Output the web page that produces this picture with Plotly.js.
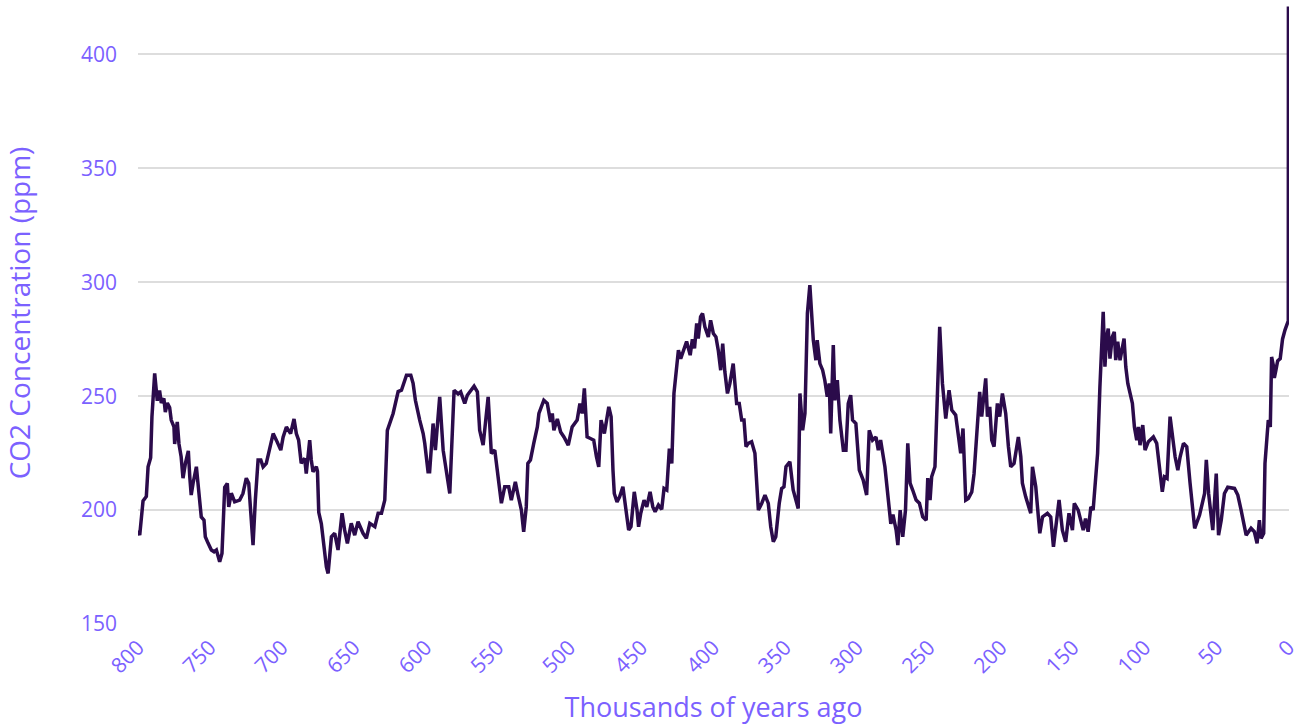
<!DOCTYPE html>
<html>
<head>
<meta charset="utf-8">
<script src="https://cdn.plot.ly/plotly-3.0.1.min.js"></script>
<style>html,body{margin:0;padding:0;background:#fff;}#chart{width:1301px;height:725px;}</style>
</head>
<body>
<div id="chart"></div>
<script>
// Age in thousands of years before present
const age = [
800,798.8,796.5,794.2,793,791.2,790.3,788.4,786.6,785,783.8,782,781,779.6,778,776.9,775,774.5,772.7,771.5,
770,768.7,767,765,764,763,761.7,759.4,758.3,756,754.1,753.2,751.3,749,747.1,745.5,743.2,741.6,739.7,737.9,
736.9,735.1,732.8,729.3,727,724.7,723,721.2,720,718.4,716.5,714.6,713,710.8,708.4,706,703.8,700.7,699.1,696.8,
693.9,691.5,689.9,688.3,686.5,684.1,683,680.6,679.5,678.3,676,675.2,674.3,672.5,669,667.8,665.5,663.2,660.9,658.1,
656.3,654.4,651.7,649.3,647,643.5,641.2,638.8,635.3,633,630.7,628.4,626.6,625,622.6,619.1,616.8,613.3,610.3,608.7,
607.1,604.1,601.7,600.6,598.3,597.2,594.8,593.2,590.2,587.8,585.5,583.2,580.2,577.4,575.6,572.8,571,568.2,566.3,564,
562.4,560,556.5,554.3,551.9,549.6,547.3,545,542.2,540.4,537.6,535.7,533.4,531.8,530,528.9,527.1,524.8,522.3,521.2,
518.9,517.8,515.4,513.1,511.9,510.8,508.4,506.1,503.8,500.8,498.1,494.6,492.7,491.1,489.6,487.7,485.4,483.1,481.2,479.6,
478,475.7,472.6,471,469.7,468.8,466.9,465.1,462.8,461.2,458.8,457.2,454.9,453,451.9,450.4,448.1,446.2,443.9,442,
440.4,438.1,435.8,434.2,432.3,430.5,428.8,427.3,425.9,424.2,422.6,420.8,418.5,416,414.5,413,411.5,410.4,408.8,407.4,
405.8,403.4,401.8,399.9,398.1,396.5,394.8,393.4,391.9,390.1,388.4,386.1,383.7,381.9,380.2,378.6,377.2,375.6,373.3,371,
368.6,366.3,364,361.7,360,358.2,356.5,354.1,352.4,350.8,349.4,346.7,344.4,342.5,340.9,339.7,337.8,336.2,334.5,332.8,
331.5,330.4,328.6,327.7,325.8,323.9,322.4,320.7,319.3,318.3,316.5,315.4,313.7,311.9,309.5,307.7,306.1,304.4,303.1,300.8,
298.4,295.7,293.3,291.5,289.2,286.8,285.2,283.6,280.6,278.3,276.5,275,272.8,271.6,270,268.2,266.3,264.7,263.1,261.3,
258.9,256.6,254.3,251.9,250.8,249.2,248.1,245.8,244.2,242.5,240.6,238.3,236,234.1,231.4,229.5,227.9,226.3,224.4,222.6,
220.2,218.6,216.3,214.7,213.3,211.7,210.5,209.3,207.7,206.3,204.7,202.4,200.8,198.9,196.6,194.7,193.1,190.8,187.8,186.1,
185,182.7,179.2,178,175.7,172.9,171,167.6,165.3,163.4,161.8,159.5,157.2,154.9,152.6,150.2,148.9,146.2,142.7,141.1,
139.3,137.4,135.8,134.6,132.7,131.1,129.9,128.8,127.6,126.4,125.3,124.1,122.5,121.1,120.1,118.7,117.1,115.9,114.3,113.1,
111.7,110.1,108.5,107.1,105.5,104.3,103.2,101.3,99.7,97.4,93.9,91.6,89.3,87.7,86.2,84.4,82.3,80.7,78.8,76.9,
75.3,73,70.7,68.4,65.2,61.8,58.3,57.1,55.5,52.6,51.4,50.2,48.6,46.7,44.5,42.2,37.5,35.2,32.9,29.4,
26,23.7,21.8,20.2,19,17.2,16.3,14.9,14,12.6,11.7,10.3,9.8,8.7,7.5,5.7,4.1,2.4,0.6,0.1,
0
];
// CO2 concentration in ppm
const co2 = [
191,189,204,206,219,223,241,260,248,252.5,247,249,243,247,245,239.5,236.5,229,238.7,229,
223.4,214,220.6,226,214.6,206.6,211.8,219,211.8,197,195.6,188.3,185.5,182.5,181.7,182.5,177.3,181,210,211.7,
201.4,207.4,203.6,204.4,207.3,214,211.8,192.7,184.6,204.4,222,222,219,220.5,226.3,233.6,230.7,226.3,232,236.5,
233.6,240,233.6,230.7,220.5,222.7,216,230.7,222,216.8,219,217,199,194,175,172.2,188.3,189.8,182.5,198.6,
191.2,185.4,194.2,189,194.9,189.8,187.6,194.2,192.7,198.6,198.6,204.4,235,238,242.4,252,252.6,259.2,259.2,255.6,
248.2,239.5,233.6,229.3,216.8,216.8,238,226.3,249.7,226.3,216,207.3,252.6,251,251.9,246.8,250.4,252.6,254.4,251.9,
235,228.5,249.7,224.9,226.3,214.6,203,210.2,210.2,204.4,212.4,206.5,200,190.5,201.4,220.5,222,229.3,236.5,242.4,
246.8,248.2,246.8,238.7,242.4,235,240,234.3,232.1,228.5,236.5,239.5,246.8,242.4,253.4,232.1,231.4,230.7,223.4,219,
239.5,233.6,245.3,241,217.5,207.3,203.6,205.8,210.2,203,191.2,192.7,208,200,192.7,198.6,204.4,201.4,208,201.4,
199.3,202.2,200.3,209.5,208.8,227,220.5,251.2,258.5,270.2,266.5,270.2,274,268,275,271,281.9,275.3,284.8,286.3,
280.4,276,283.3,277.5,276,270.2,261.4,273.1,260.7,251.2,255.6,264.3,246.8,246.8,239.5,239.5,227.8,229.3,230,224.9,
200,202.9,206.6,202.9,192.7,186.1,188.3,202.9,209.5,210.2,219,221.2,208.8,204.4,200.7,251.2,235,242.4,286.3,298.7,
283.3,274.6,265.8,274.6,264.3,261.4,257,249.7,255.6,233.6,272.4,248.2,257,239.5,226.3,226.3,246.8,250.4,239.5,238,
217.5,213.2,206.6,235,230.7,232.1,226.3,230.7,219,204.4,194,198,191.2,184.6,200,188.3,200,229.3,211.8,208.8,
204.4,203,197,195.6,214,204.4,214.6,219,248.2,280.4,255.6,240.2,252.6,243.9,241.7,233.6,224.9,235.8,204.4,205.1,
208,216,241,251.9,241,252.6,257.8,241,245.3,230.7,227.8,246.8,241,251.2,242.4,227.8,219,220.5,232.1,223.4,
211.8,205.8,198.6,219,210.2,189.8,197,198.6,197,183.9,191.2,204.4,191.2,186.1,198.6,191.2,203,200,191.2,196.3,
190.5,201.4,200,210.2,224.9,254,268.7,287,262.9,276,279.7,266.5,276,278.2,265.8,273.9,265.8,270.2,275.3,262.9,
255.6,251.2,246.8,236.5,230.7,236.5,228.5,237.3,226.3,230,232.1,229.3,217.5,208,214.6,213.9,241,233.6,223.4,217.5,
223.4,229.3,227.8,211.8,192,197.8,207.3,222,207.3,191.2,203,216,189,195.6,207.3,210,209.5,206.6,200,189,
192,190.5,185.4,195.6,187.6,189.8,220.5,232.1,239.5,236.5,267.2,262.9,258,261.4,265.5,266.5,275,279,283,283,
421
];
const xTicks = [800,750,700,650,600,550,500,450,400,350,300,250,200,150,100,50,0];
const yTicks = [150,200,250,300,350,400];

const labelColor = '#7b61ff';
const fontFamily = '"Open Sans", "Lato", sans-serif';

Plotly.newPlot('chart', [{
  x: age, y: co2, type: 'scatter', mode: 'lines',
  line: {color: '#2b0b4b', width: 3.5},
  hoverinfo: 'x+y'
}], {
  width: 1301, height: 725,
  margin: {l: 138, r: 12, t: 2, b: 101},
  paper_bgcolor: '#ffffff', plot_bgcolor: '#ffffff',
  showlegend: false,
  font: {family: fontFamily, color: labelColor},
  xaxis: {
    range: [800, -0.4], tickvals: xTicks, ticktext: xTicks.map(String),
    tickangle: -45, showgrid: false, zeroline: false, showline: false, ticks: '',
    ticklabelstandoff: 6, ticklabeloverflow: 'allow',
    tickfont: {family: fontFamily, size: 21, color: labelColor},
    title: {text: 'Thousands of years ago', font: {family: fontFamily, size: 27, color: labelColor}, standoff: 28}
  },
  yaxis: {
    range: [150, 423], tickvals: yTicks, ticktext: yTicks.map(String),
    showgrid: true, gridcolor: '#dddddd', gridwidth: 2, zeroline: false, showline: false, ticks: '',
    ticklabelstandoff: 20,
    tickfont: {family: fontFamily, size: 21, color: labelColor},
    title: {text: 'CO2 Concentration (ppm)', font: {family: fontFamily, size: 28, color: labelColor}, standoff: 50}
  }
}, {displayModeBar: false, staticPlot: true});
</script>
</body>
</html>
